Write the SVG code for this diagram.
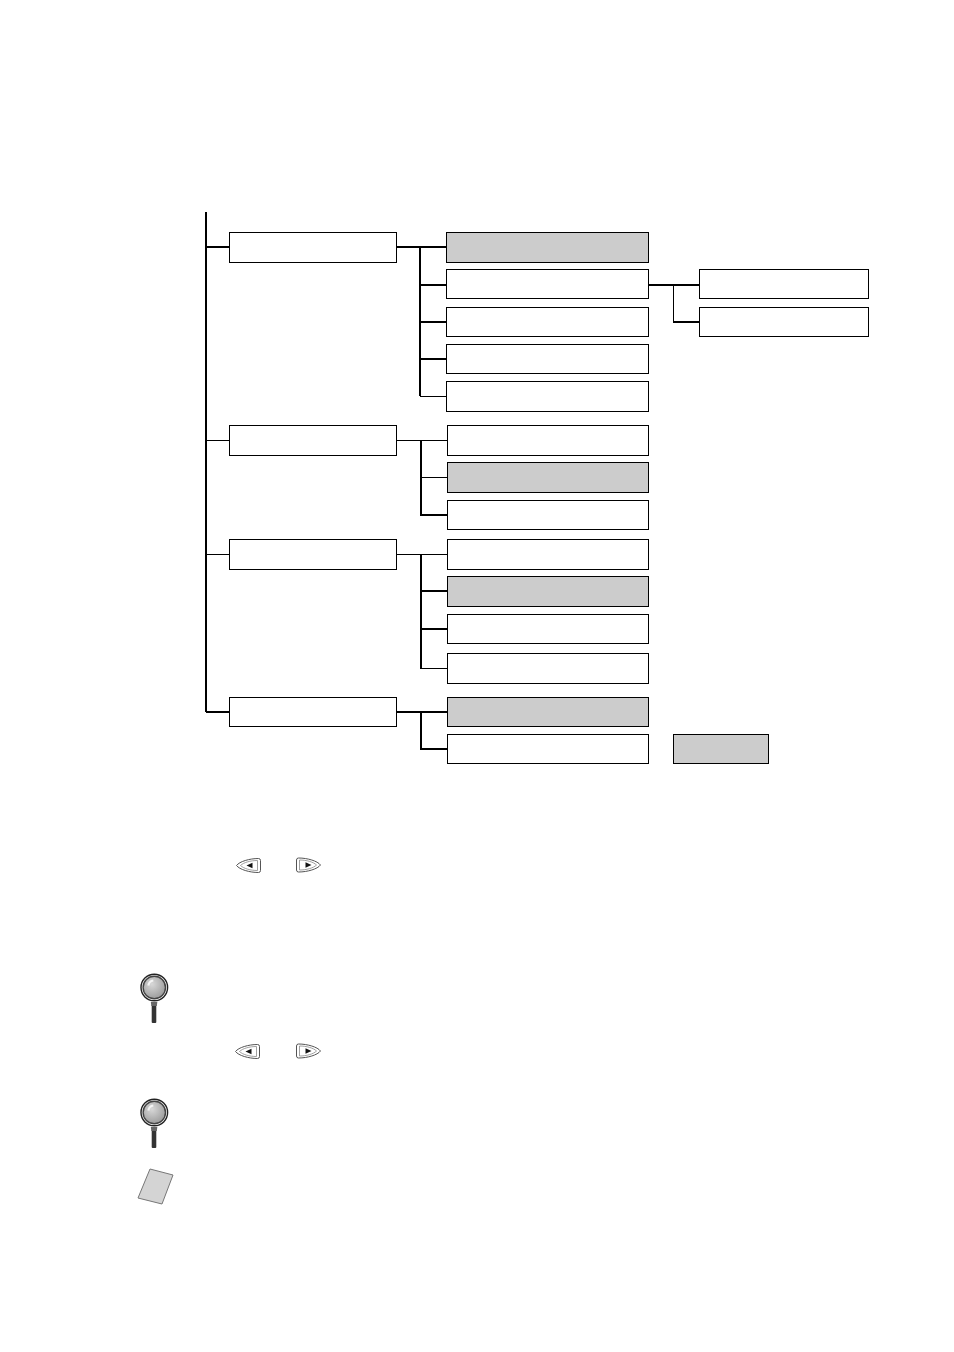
<svg xmlns="http://www.w3.org/2000/svg" width="954" height="1352" viewBox="0 0 954 1352">
<style>
.b{fill:#fff;stroke:#000;stroke-width:1}
.g{fill:#ccc;stroke:#000;stroke-width:1}
.t{fill:none;stroke:#000;stroke-width:2}
.n{fill:none;stroke:#000;stroke-width:1}
.kf{fill:#fff;stroke:#555;stroke-width:1}
.kk{fill:none;stroke:#888;stroke-width:.8}
.ka{fill:#111;stroke:none}
</style>
<defs>
<radialGradient id="lens" cx="40%" cy="35%" r="70%"><stop offset="0" stop-color="#d8d8d8"/><stop offset="1" stop-color="#999"/></radialGradient>
<g id="loupe">
<rect x="-2.600" y="17" width="4.600" height="18.500" rx="1" fill="#333"/>
<path d="M-3.500,14.500L3,14.500L2.500,18.500L-3,18.500Z" fill="#666"/>
<circle cx="0" cy="0" r="13.300" fill="#fff" stroke="#222" stroke-width="1.400"/>
<circle cx="0" cy="0" r="11.200" fill="url(#lens)" stroke="#444" stroke-width="1.400"/>
<path d="M-6,-2Q-5,-6.500 -1,-7" fill="none" stroke="#f4f4f4" stroke-width="2.200"/>
</g>
<g id="keyL">
<path class="kf" d="M0,0C3,-4 13,-7 22,-7Q24,-7 24,-5L24,5Q24,7 22,7C13,7 3,4 0,0Z"/>
<path class="kk" d="M4,0C7,-3 14,-5 21,-5L21,5C14,5 7,3 4,0Z"/>
<path class="ka" d="M10,0L16,-2.800L16,2.800Z"/>
</g>
<g id="keyR">
<path class="kf" d="M0,-5Q0,-7 2,-7C11,-7 21,-4 24,0C21,4 11,7 2,7Q0,7 0,5Z"/>
<path class="kk" d="M3,-5C10,-5 17,-3 20,0C17,3 10,5 3,5Z"/>
<path class="ka" d="M15,0L9,-2.800L9,2.800Z"/>
</g>
</defs>
<rect width="954" height="1352" fill="#fff"/>
<g id="connectors">
<path class="t" d="M206,212V712"/>
<path class="t" d="M206,247H229"/>
<path class="n" d="M206,440.500H229"/>
<path class="n" d="M206,554.500H229"/>
<path class="t" d="M206,712H229"/>
<path class="t" d="M397,247H446"/>
<path class="t" d="M420,246V396"/>
<path class="n" d="M420,396.500H446"/>
<path class="t" d="M420,285H446"/>
<path class="t" d="M420,322H446"/>
<path class="t" d="M420,359H446"/>
<path class="n" d="M397,440.500H447"/>
<path class="t" d="M421,440V515H447"/>
<path class="n" d="M421,477.500H447"/>
<path class="n" d="M397,554.500H447"/>
<path class="t" d="M421,554V668"/>
<path class="t" d="M421,591H447"/>
<path class="t" d="M421,629H447"/>
<path class="n" d="M420,668.500H447"/>
<path class="t" d="M397,712H447"/>
<path class="t" d="M421,712V749H447"/>
<path class="t" d="M649,285H699"/>
<path class="n" d="M673.500,285V322"/>
<path class="t" d="M673,322H699"/>
</g>
<g id="n1"><rect class="b" x="229.500" y="232.500" width="167" height="30"/></g>
<g id="n1a"><rect class="g" x="446.500" y="232.500" width="202" height="30"/></g>
<g id="n1b"><rect class="b" x="446.500" y="269.500" width="202" height="29"/></g>
<g id="n1c"><rect class="b" x="446.500" y="307.500" width="202" height="29"/></g>
<g id="n1d"><rect class="b" x="446.500" y="344.500" width="202" height="29"/></g>
<g id="n1e"><rect class="b" x="446.500" y="381.500" width="202" height="30"/></g>
<g id="n1b1"><rect class="b" x="699.500" y="269.500" width="169" height="29"/></g>
<g id="n1b2"><rect class="b" x="699.500" y="307.500" width="169" height="29"/></g>
<g id="n2"><rect class="b" x="229.500" y="425.500" width="167" height="30"/></g>
<g id="n2a"><rect class="b" x="447.500" y="425.500" width="201" height="30"/></g>
<g id="n2b"><rect class="g" x="447.500" y="462.500" width="201" height="30"/></g>
<g id="n2c"><rect class="b" x="447.500" y="500.500" width="201" height="29"/></g>
<g id="n3"><rect class="b" x="229.500" y="539.500" width="167" height="30"/></g>
<g id="n3a"><rect class="b" x="447.500" y="539.500" width="201" height="30"/></g>
<g id="n3b"><rect class="g" x="447.500" y="576.500" width="201" height="30"/></g>
<g id="n3c"><rect class="b" x="447.500" y="614.500" width="201" height="29"/></g>
<g id="n3d"><rect class="b" x="447.500" y="653.500" width="201" height="30"/></g>
<g id="n4"><rect class="b" x="229.500" y="697.500" width="167" height="29"/></g>
<g id="n4a"><rect class="g" x="447.500" y="697.500" width="201" height="29"/></g>
<g id="n4b"><rect class="b" x="447.500" y="734.500" width="201" height="29"/></g>
<g id="n4c"><rect class="g" x="673.500" y="734.500" width="95" height="29"/></g>
<use href="#keyL" x="236.500" y="865.500"/>
<use href="#keyR" x="296.500" y="865"/>
<use href="#keyL" x="235.500" y="1051.500"/>
<use href="#keyR" x="296.500" y="1051"/>
<use href="#loupe" x="154.300" y="987.500"/>
<use href="#loupe" x="154.300" y="1112.500"/>
<path d="M150,1169L173,1175L162,1204L138,1198Z" fill="#d4d4d4" stroke="#777" stroke-width="1"/>
</svg>
